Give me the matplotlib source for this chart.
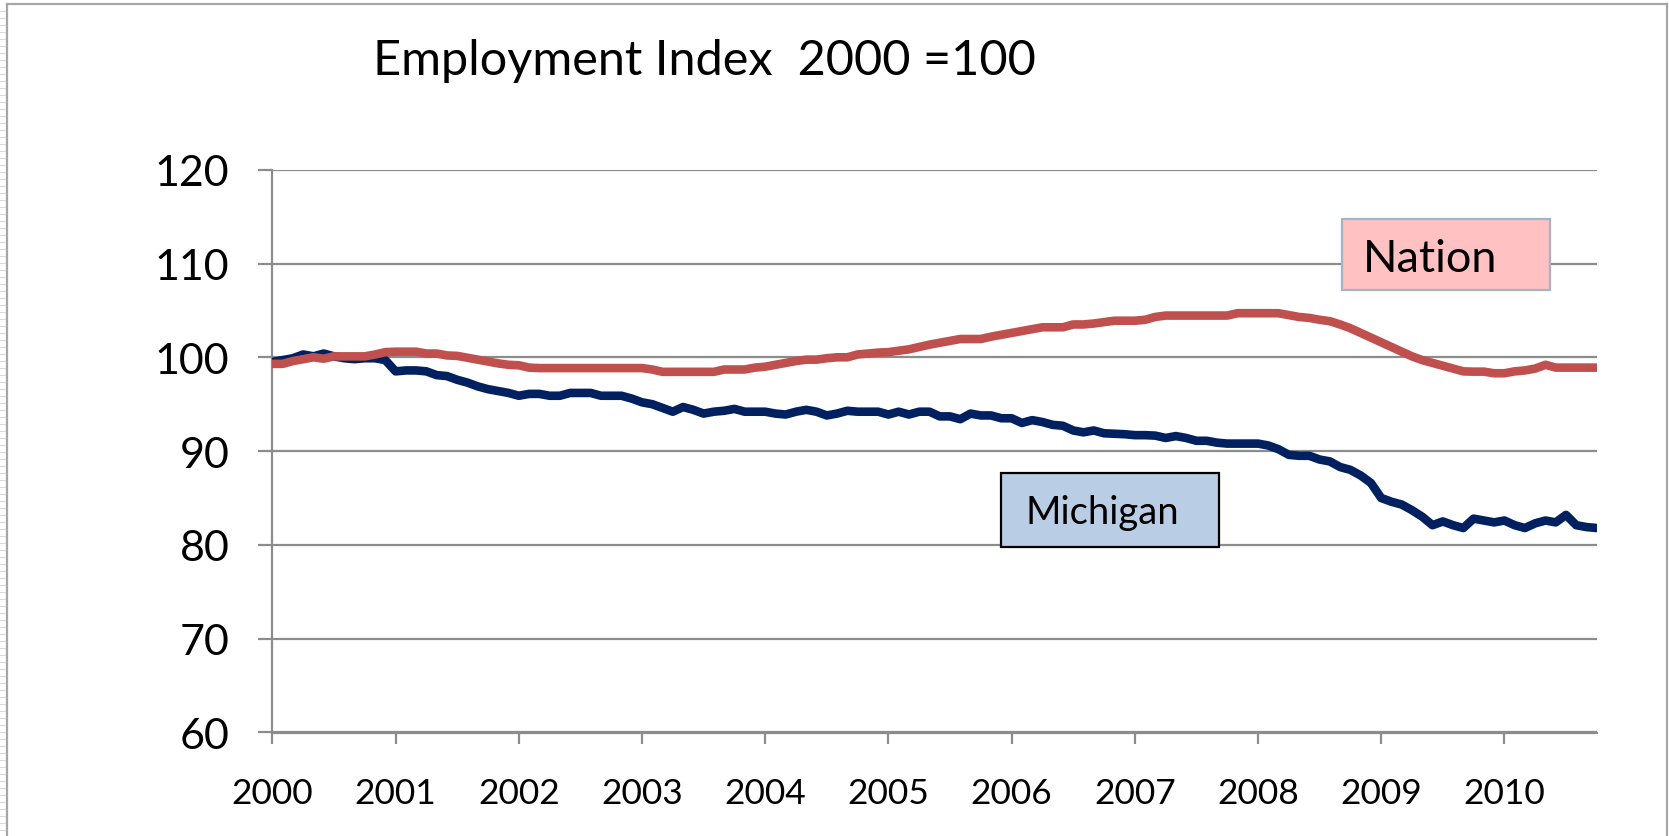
import numpy as np
import matplotlib
matplotlib.use("Agg")
import matplotlib.pyplot as plt
from matplotlib.patches import Rectangle
from matplotlib.lines import Line2D

plt.rcParams['font.family'] = ['Lato', 'DejaVu Sans']

# =========================
# data: monthly index, Jan 2000 .. Oct 2010 (2000 = 100)
# =========================
years = [str(y) for y in range(2000, 2011)]

michigan = [
    99.5, 99.7, 99.9, 100.3, 100.1, 100.4, 100.1, 99.9, 99.8, 99.9, 99.9, 99.7,
    98.5, 98.6, 98.6, 98.5, 98.1, 98.0, 97.6, 97.3, 96.9, 96.6, 96.4, 96.2,
    95.9, 96.1, 96.1, 95.9, 95.9, 96.2, 96.2, 96.2, 95.9, 95.9, 95.9, 95.6,
    95.2, 95.0, 94.6, 94.2, 94.7, 94.4, 94.0, 94.2, 94.3, 94.5, 94.2, 94.2,
    94.2, 94.0, 93.9, 94.2, 94.4, 94.2, 93.8, 94.0, 94.3, 94.2, 94.2, 94.2,
    93.9, 94.2, 93.9, 94.2, 94.2, 93.7, 93.7, 93.4, 94.0, 93.8, 93.8, 93.5,
    93.5, 93.0, 93.3, 93.1, 92.8, 92.7, 92.2, 92.0, 92.2, 91.9, 91.85, 91.8,
    91.7, 91.7, 91.65, 91.4, 91.6, 91.4, 91.1, 91.1, 90.9, 90.8, 90.8, 90.8,
    90.8, 90.6, 90.2, 89.6, 89.5, 89.5, 89.1, 88.9, 88.3, 88.0, 87.4, 86.6,
    85.0, 84.6, 84.3, 83.7, 83.0, 82.1, 82.5, 82.1, 81.8, 82.8, 82.6, 82.4,
    82.6, 82.1, 81.8, 82.3, 82.6, 82.4, 83.2, 82.1, 81.9, 81.8,
]

nation = [
    99.3, 99.3, 99.6, 99.8, 100.0, 99.85, 100.1, 100.1, 100.1, 100.1, 100.3, 100.55,
    100.6, 100.6, 100.6, 100.4, 100.4, 100.2, 100.15, 99.95, 99.75, 99.55, 99.35, 99.2,
    99.15, 98.9, 98.85, 98.85, 98.85, 98.85, 98.85, 98.85, 98.85, 98.85, 98.85, 98.85,
    98.85, 98.7, 98.45, 98.45, 98.45, 98.45, 98.45, 98.45, 98.7, 98.7, 98.7, 98.9,
    99.0, 99.2, 99.4, 99.6, 99.75, 99.75, 99.9, 100.0, 100.0, 100.3, 100.4, 100.5,
    100.55, 100.7, 100.85, 101.1, 101.35, 101.55, 101.75, 101.95, 101.95, 101.95, 102.2, 102.4,
    102.6, 102.8, 103.0, 103.2, 103.2, 103.2, 103.5, 103.5, 103.6, 103.75, 103.9, 103.9,
    103.9, 104.0, 104.3, 104.45, 104.45, 104.45, 104.45, 104.45, 104.45, 104.45, 104.7, 104.7,
    104.7, 104.7, 104.7, 104.5, 104.3, 104.2, 104.0, 103.85, 103.5, 103.1, 102.6, 102.1,
    101.6, 101.1, 100.6, 100.1, 99.7, 99.4, 99.1, 98.8, 98.5, 98.47, 98.47, 98.3,
    98.3, 98.5, 98.6, 98.8, 99.2, 98.9, 98.9, 98.9, 98.9, 98.9,
]

months = np.arange(len(michigan))

# =========================
# figure
# =========================
W, H = 1669, 837
fig = plt.figure(figsize=(W / 100, H / 100), dpi=100)

ax = fig.add_axes([272.4 / W, 1 - 733.5 / H, 1324.4 / W, 562.8 / H])

grid_c = "#8c8c8c"
ax.plot(months, michigan, color="#002060", lw=6.2, solid_joinstyle="round",
        solid_capstyle="round", zorder=3)
ax.plot(months, nation, color="#C0504D", lw=6.2, solid_joinstyle="round",
        solid_capstyle="round", zorder=4)

ax.set_xlim(0, len(michigan) - 1)
ax.set_ylim(60, 120)
ax.set_yticks(range(60, 121, 10))
ax.set_xticks(np.arange(0, len(michigan), 12))
ax.set_xticklabels(years)
ax.yaxis.grid(True, color=grid_c, lw=1.6)
ax.set_axisbelow(True)

for s in ["top", "right"]:
    ax.spines[s].set_visible(False)
for s in ["left", "bottom"]:
    ax.spines[s].set_color(grid_c)
    ax.spines[s].set_linewidth(1.6)

ax.tick_params(axis="y", length=10, width=1.6, color=grid_c, labelsize=31, pad=21)
ax.tick_params(axis="x", length=8, width=1.6, color=grid_c, labelsize=25.5, pad=24)

# title
fig.text(373 / W, 1 - 75 / H, "Employment Index  2000 =100", fontsize=35,
         va="baseline", ha="left")

# series labels (boxes)
fig.patches.append(Rectangle((1341.7 / W, 1 - 290.7 / H), 208.3 / W, 70.7 / H,
                             transform=fig.transFigure, facecolor="#FFC1C1",
                             edgecolor="#A2B4C8", lw=1.6, zorder=5))
fig.text(1363 / W, 1 - 271.7 / H, "Nation", fontsize=32.5, va="baseline", ha="left",
         zorder=6)

fig.patches.append(Rectangle((1001 / W, 1 - 548 / H), 218 / W, 74 / H,
                             transform=fig.transFigure, facecolor="#B9CDE5",
                             edgecolor="black", lw=1.6, zorder=5))
fig.text(1025 / W, 1 - 524 / H, "Michigan", fontsize=27.5, va="baseline", ha="left",
         zorder=6)

# chart area border and spreadsheet edge
fig.add_artist(Line2D([7 / W, 7 / W], [0, 1 - 5 / H], color="#a6a6a6", lw=1.6))
fig.add_artist(Line2D([7 / W, 1667 / W], [1 - 5 / H, 1 - 5 / H], color="#a6a6a6", lw=1.6))
fig.add_artist(Line2D([1667 / W, 1667 / W], [0, 1 - 5 / H], color="#a6a6a6", lw=1.6))
for yy in np.arange(12, H, 7):
    fig.add_artist(Line2D([0, 5 / W], [1 - yy / H, 1 - yy / H], color="#d9d9d9", lw=0.8))

fig.savefig("out.png", dpi=100)
